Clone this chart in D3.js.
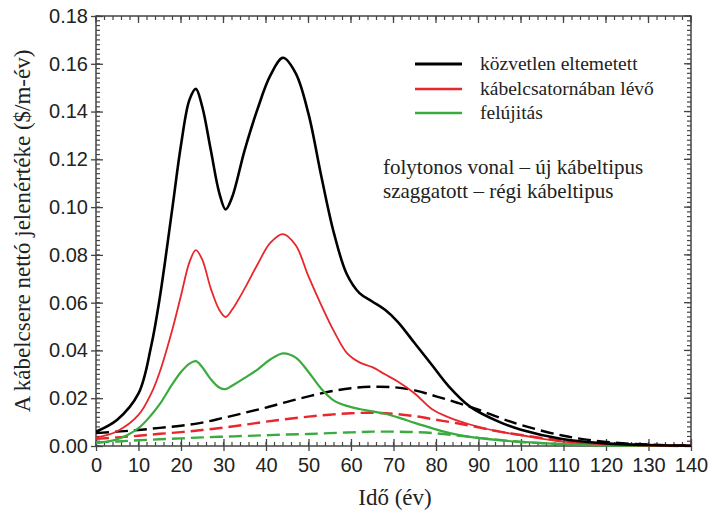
<!DOCTYPE html>
<html><head><meta charset="utf-8">
<script src="https://cdn.jsdelivr.net/npm/d3@7"></script>
<style>body{margin:0;background:#fff}svg{display:block}</style>
</head><body>
<svg id="c" width="708" height="517"></svg>
<script>
// ---- data ----
const solidYears = [0,5,10,13,15,18,20,22,23.5,25,27,29,30.5,32,35,38,41,44,47,50,53,56,59,62,65,68,71,75,79,83,88,95,100,110,120,130,140];
const blackSolid = [0.006,0.011,0.022,0.042,0.062,0.100,0.126,0.145,0.1495,0.142,0.124,0.106,0.099,0.104,0.124,0.141,0.155,0.1625,0.156,0.139,0.113,0.089,0.072,0.064,0.0605,0.057,0.052,0.043,0.034,0.025,0.0165,0.010,0.0068,0.0028,0.0011,0.0004,0.0001];
const redSolid   = [0.0035,0.0062,0.013,0.022,0.031,0.049,0.063,0.077,0.082,0.078,0.066,0.057,0.054,0.057,0.066,0.076,0.085,0.0887,0.084,0.071,0.059,0.048,0.039,0.035,0.033,0.030,0.027,0.022,0.0155,0.012,0.009,0.006,0.0045,0.0018,0.0007,0.0002,0.0001];
const greenSolid = [0.0012,0.0028,0.0075,0.013,0.0175,0.026,0.031,0.0345,0.0355,0.033,0.028,0.0245,0.0238,0.0252,0.0285,0.032,0.0362,0.0388,0.037,0.031,0.024,0.019,0.0168,0.0155,0.0145,0.0135,0.012,0.0097,0.0075,0.0055,0.0038,0.0024,0.0017,0.0008,0.0003,0.0001,0];
const dashedYears = [0,5,10,15,20,25,30,35,40,45,50,55,60,65,70,75,80,85,90,95,100,110,120,130,140];
const blackDashed = [0.0054,0.0060,0.0067,0.0076,0.0085,0.0098,0.0118,0.0139,0.0161,0.0185,0.0208,0.0228,0.0242,0.0248,0.0246,0.0233,0.0208,0.0181,0.0152,0.0118,0.0088,0.0043,0.0017,0.0006,0.0002];
const redDashed   = [0.0030,0.0036,0.0043,0.0051,0.0058,0.0067,0.0077,0.0089,0.0102,0.0113,0.0123,0.0131,0.0137,0.0139,0.0135,0.0125,0.0110,0.0095,0.0078,0.0060,0.0046,0.0022,0.0009,0.0003,0.0001];
const greenDashed = [0.0015,0.0019,0.0024,0.0028,0.0032,0.0036,0.0039,0.0042,0.0045,0.0048,0.0050,0.0054,0.0057,0.0060,0.0060,0.0058,0.0053,0.0044,0.0034,0.0025,0.0017,0.0008,0.0003,0.0001,0];
const xTicks = [0,10,20,30,40,50,60,70,80,90,100,110,120,130,140];
const yTicks = [0,0.02,0.04,0.06,0.08,0.10,0.12,0.14,0.16,0.18];
const legendLabels = ["közvetlen eltemetett","kábelcsatornában lévő","felújitás"];
const noteLines = ["folytonos vonal – új kábeltipus","szaggatott – régi kábeltipus"];
const xTitle = "Idő (év)";
const yTitle = "A kábelcsere nettó jelenértéke ($/m-év)";

// ---- layout ----
const L = 96, R = 691, T = 16, B = 446;
const svg = d3.select("#c");
const x = d3.scaleLinear().domain([0,140]).range([L,R]);
const y = d3.scaleLinear().domain([0,0.18]).range([B,T]);
const axisCol = "#444";
const colors = {black:"#000000", red:"#e8262b", green:"#3aab3f"};
const serif = "'Liberation Serif', 'Times New Roman', serif";

// frame
svg.append("rect").attr("x",L).attr("y",T).attr("width",R-L).attr("height",B-T)
  .attr("fill","none").attr("stroke",axisCol).attr("stroke-width",1.5);

// minor ticks
const xMinor = d3.range(0,141,2), yMinor = d3.range(0,0.1801,0.002);
const g = svg.append("g").attr("stroke",axisCol).attr("stroke-width",1.2);
xMinor.forEach(v=>{
  g.append("line").attr("x1",x(v)).attr("x2",x(v)).attr("y1",B).attr("y2",B-4);
  g.append("line").attr("x1",x(v)).attr("x2",x(v)).attr("y1",T).attr("y2",T+4);
});
yMinor.forEach(v=>{
  g.append("line").attr("x1",L).attr("x2",L+4).attr("y1",y(v)).attr("y2",y(v));
  g.append("line").attr("x1",R).attr("x2",R-4).attr("y1",y(v)).attr("y2",y(v));
});

// major axes
const fmtY = d3.format(".2f");
const ax = svg.append("g").attr("transform",`translate(0,${B})`)
  .call(d3.axisBottom(x).tickValues(xTicks).tickSizeInner(-7).tickSizeOuter(0).tickPadding(12));
const ay = svg.append("g").attr("transform",`translate(${L},0)`)
  .call(d3.axisLeft(y).tickValues(yTicks).tickFormat(fmtY).tickSizeInner(-7).tickSizeOuter(0).tickPadding(8));
[ax,ay].forEach(a=>{
  a.select(".domain").remove();
  a.selectAll(".tick line").attr("stroke",axisCol).attr("stroke-width",1.3);
  a.selectAll(".tick text").attr("font-family","'Liberation Sans', Arial, sans-serif")
    .attr("font-size",20).attr("fill","#222");
});
ax.selectAll(".tick").append("line").attr("y1",0).attr("y2",5).attr("stroke",axisCol).attr("stroke-width",1.3);
ay.selectAll(".tick").append("line").attr("x1",0).attr("x2",-5).attr("stroke",axisCol).attr("stroke-width",1.3);
ax.selectAll(".tick text").attr("dy","0.71em");
xTicks.forEach(v=>svg.append("line").attr("x1",x(v)).attr("x2",x(v)).attr("y1",T).attr("y2",T+7).attr("stroke",axisCol).attr("stroke-width",1.3));
yTicks.forEach(v=>svg.append("line").attr("x1",R).attr("x2",R-7).attr("y1",y(v)).attr("y2",y(v)).attr("stroke",axisCol).attr("stroke-width",1.3));

// titles
svg.append("text").attr("x",395).attr("y",505).attr("text-anchor","middle")
  .attr("font-family",serif).attr("font-size",23).attr("fill","#222").text(xTitle);
svg.append("text").attr("transform",`translate(30,231) rotate(-90)`).attr("text-anchor","middle")
  .attr("font-family",serif).attr("font-size",23).attr("fill","#222").text(yTitle);

// lines
svg.append("clipPath").attr("id","clp").append("rect").attr("x",L).attr("y",T).attr("width",R-L).attr("height",B-T+2);
const lineGen = d3.line().x(d=>x(d[0])).y(d=>y(d[1])).curve(d3.curveCatmullRom.alpha(0.5));
const series = [
  {yrs:dashedYears, vals:greenDashed, col:colors.green, w:2.4, dash:"13,6"},
  {yrs:dashedYears, vals:redDashed, col:colors.red, w:2.4, dash:"13,6"},
  {yrs:dashedYears, vals:blackDashed, col:colors.black, w:2.4, dash:"13,6"},
  {yrs:solidYears, vals:greenSolid, col:colors.green, w:2.2, dash:null},
  {yrs:solidYears, vals:redSolid, col:colors.red, w:1.8, dash:null},
  {yrs:solidYears, vals:blackSolid, col:colors.black, w:2.6, dash:null},
];
const lg = svg.append("g").attr("clip-path","url(#clp)");
series.forEach(s=>{
  lg.append("path").datum(s.yrs.map((t,i)=>[t,s.vals[i]])).attr("d",lineGen)
    .attr("fill","none").attr("stroke",s.col).attr("stroke-width",s.w)
    .attr("stroke-dasharray",s.dash).attr("stroke-linejoin","round");
});

// legend
const legCols = [colors.black, colors.red, colors.green];
const legY = [64, 89, 113];
legendLabels.forEach((t,i)=>{
  svg.append("line").attr("x1",415).attr("x2",462).attr("y1",legY[i]).attr("y2",legY[i])
    .attr("stroke",legCols[i]).attr("stroke-width",i===0?3:2.4);
  svg.append("text").attr("x",480).attr("y",legY[i]+6).attr("font-family",serif)
    .attr("font-size",19.5).attr("fill","#222").text(t);
});
noteLines.forEach((t,i)=>{
  svg.append("text").attr("x",383).attr("y",174+i*24).attr("font-family",serif)
    .attr("font-size",21).attr("fill","#222").text(t);
});
</script>
</body></html>
